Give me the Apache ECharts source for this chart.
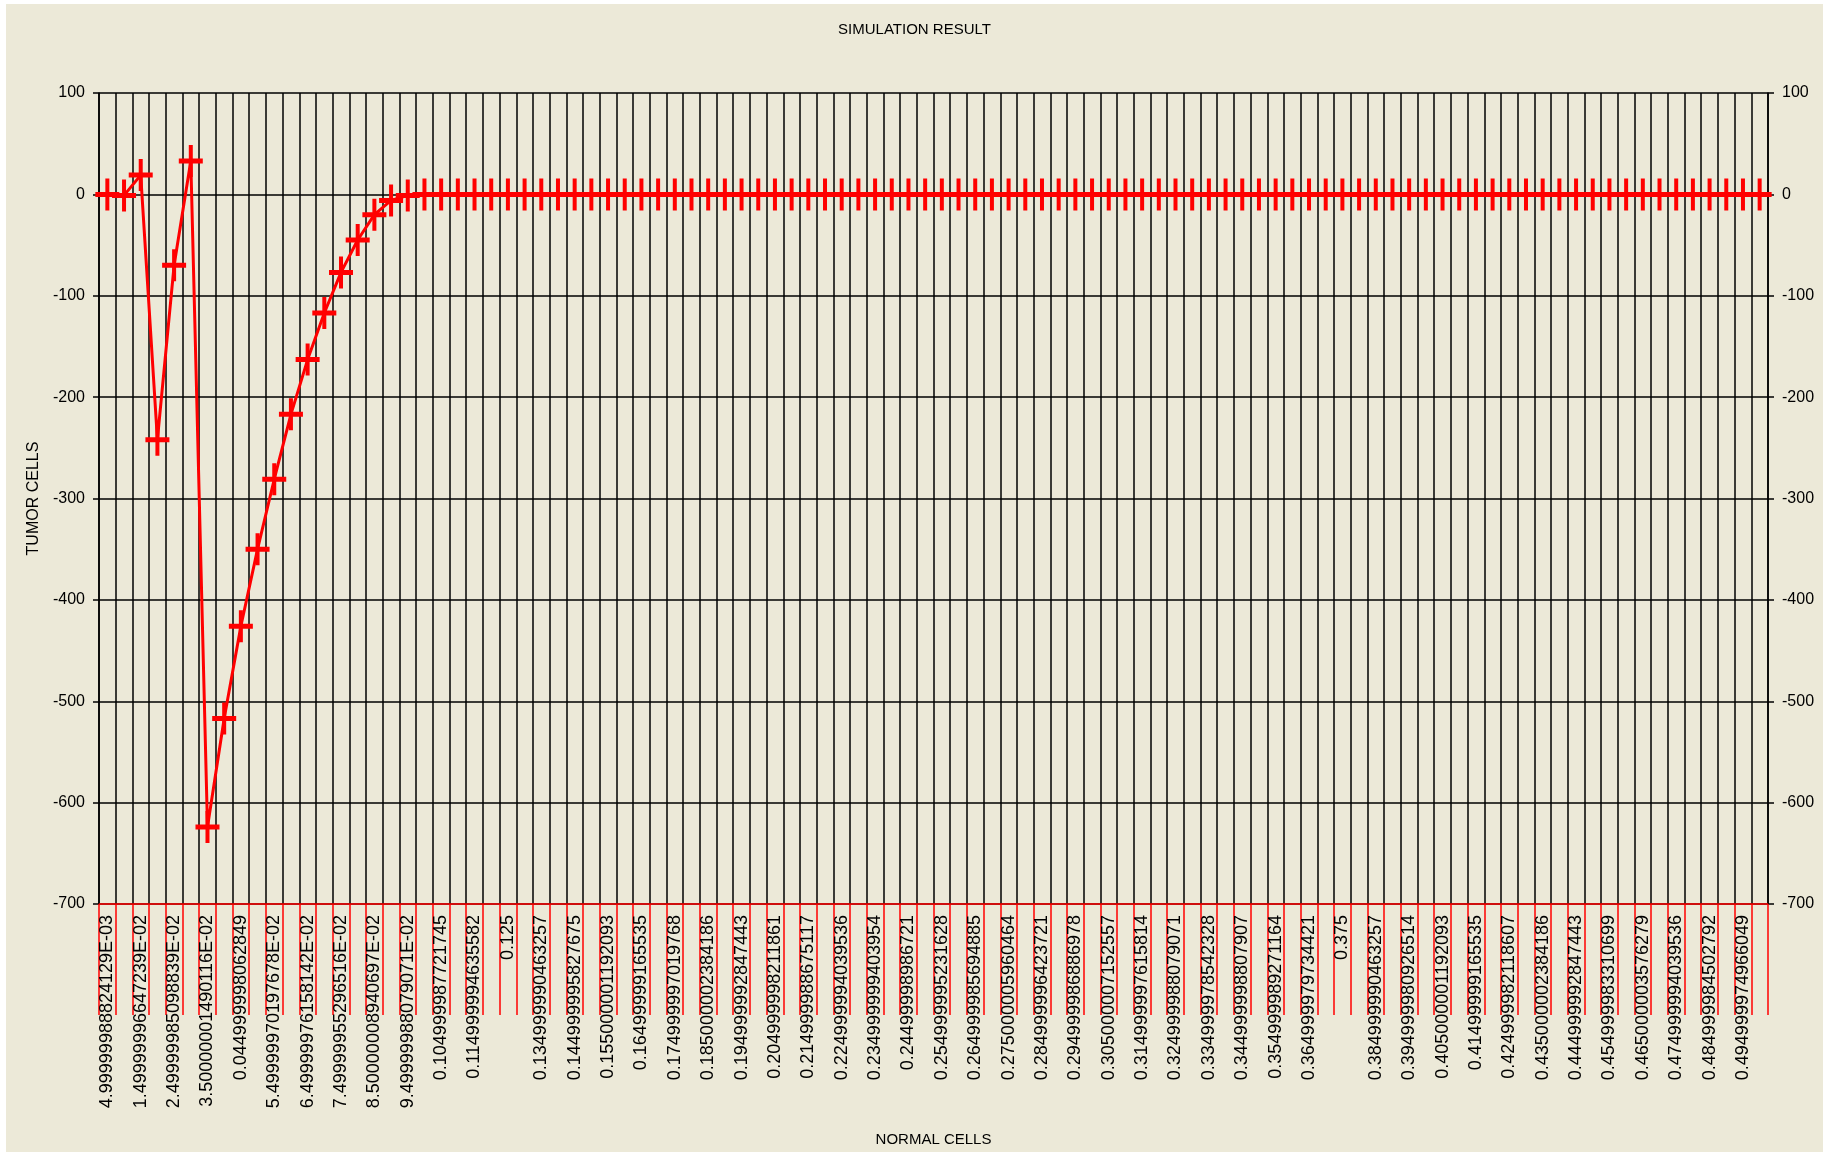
<!DOCTYPE html>
<html>
<head>
<meta charset="utf-8">
<script src="https://cdn.jsdelivr.net/npm/echarts@6/dist/echarts.min.js"></script>
<style>
  html, body { margin: 0; padding: 0; background: #ffffff; width: 1830px; height: 1155px; overflow: hidden; }
  #chart { position: absolute; left: 6px; top: 4px; width: 1817px; height: 1148px; }
</style>
</head>
<body>
<div id="chart"></div>
<script>
// Category labels (NORMAL CELLS); every other label is shown, as in the reference
const categories = [
  "4.99999988824129E-03", "9.99999977648258E-03", "1.49999996647239E-02", "1.99999995529652E-02",
  "2.49999985098839E-02", "0.03", "3.50000001490116E-02", "0.04",
  "0.044999998062849", "0.05", "5.49999970197678E-02", "0.06",
  "6.49999976158142E-02", "0.07", "7.49999955296516E-02", "0.08",
  "8.50000008940697E-02", "0.09", "9.49999988079071E-02", "0.1",
  "0.104999987721745", "0.11", "0.114999994635582", "0.12",
  "0.125", "0.13", "0.134999990463257", "0.14",
  "0.144999995827675", "0.15", "0.155000001192093", "0.16",
  "0.16499999165535", "0.17", "0.174999997019768", "0.18",
  "0.185000002384186", "0.19", "0.194999992847443", "0.2",
  "0.204999998211861", "0.21", "0.214999988675117", "0.22",
  "0.224999994039536", "0.23", "0.234999999403954", "0.24",
  "0.24499998986721", "0.25", "0.254999995231628", "0.26",
  "0.264999985694885", "0.27", "0.275000005960464", "0.28",
  "0.284999996423721", "0.29", "0.294999986886978", "0.3",
  "0.305000007152557", "0.31", "0.314999997615814", "0.32",
  "0.324999988079071", "0.33", "0.334999978542328", "0.34",
  "0.344999998807907", "0.35", "0.354999989271164", "0.36",
  "0.364999979734421", "0.37", "0.375", "0.38",
  "0.384999990463257", "0.39", "0.394999980926514", "0.4",
  "0.405000001192093", "0.41", "0.41499999165535", "0.42",
  "0.424999982118607", "0.43", "0.435000002384186", "0.44",
  "0.444999992847443", "0.45", "0.454999983310699", "0.46",
  "0.465000003576279", "0.47", "0.474999994039536", "0.48",
  "0.484999984502792", "0.49", "0.494999974966049", "0.5"
];

// TUMOR CELLS values
const tumorCells = [
  0, -1, 19, -242, -70, 33, -624, -517, -426, -350,
  -281, -217, -163, -117, -77, -45, -20, -6, -1, 0,
  0, 0, 0, 0, 0, 0, 0, 0, 0, 0,
  0, 0, 0, 0, 0, 0, 0, 0, 0, 0,
  0, 0, 0, 0, 0, 0, 0, 0, 0, 0,
  0, 0, 0, 0, 0, 0, 0, 0, 0, 0,
  0, 0, 0, 0, 0, 0, 0, 0, 0, 0,
  0, 0, 0, 0, 0, 0, 0, 0, 0, 0,
  0, 0, 0, 0, 0, 0, 0, 0, 0, 0,
  0, 0, 0, 0, 0, 0, 0, 0, 0, 0
];

const yMin = -700, yMax = 100, yStep = 100;
const titleText = "SIMULATION RESULT";
const xName = "NORMAL CELLS";
const yName = "TUMOR CELLS";

const FONT = "'Liberation Sans', Arial, sans-serif";
const chart = echarts.init(document.getElementById('chart'), null, { renderer: 'canvas' });

const yAxisBase = {
  type: 'value',
  min: yMin, max: yMax, interval: yStep,
  axisLine: { show: true, lineStyle: { color: '#000', width: 1.5 } },
  axisTick: { show: true, length: 6, lineStyle: { color: '#000', width: 1.5 } },
  axisLabel: { color: '#000', fontSize: 16, fontFamily: FONT, margin: 14 }
};

chart.setOption({
  animation: false,
  backgroundColor: '#ECE9D8',
  title: {
    text: titleText, left: 'center', top: 13,
    textStyle: { color: '#000', fontSize: 15, fontWeight: 'normal', fontFamily: FONT }
  },
  grid: { left: 93, top: 89, right: 55, bottom: 248, containLabel: false },
  xAxis: {
    type: 'category',
    data: categories,
    boundaryGap: true,
    name: xName,
    nameLocation: 'middle',
    nameGap: 228,
    nameTextStyle: { color: '#000', fontSize: 15, fontFamily: FONT },
    axisLine: { show: true, onZero: false, lineStyle: { color: '#ff0000', width: 1.5 } },
    axisTick: { show: true, interval: 0, length: 111, alignWithLabel: false, lineStyle: { color: '#ff0000', width: 1.5 } },
    axisLabel: { interval: 1, rotate: 90, margin: 11, color: '#000', fontSize: 18, fontFamily: FONT },
    splitLine: { show: true, interval: 0, lineStyle: { color: '#000', width: 1.5 } }
  },
  yAxis: [
    Object.assign({}, yAxisBase, {
      position: 'left',
      name: yName,
      nameLocation: 'middle',
      nameRotate: 90,
      nameGap: 56,
      nameTextStyle: { color: '#000', fontSize: 16, fontFamily: FONT },
      splitLine: { show: true, lineStyle: { color: '#000', width: 1.5 } }
    }),
    Object.assign({}, yAxisBase, {
      position: 'right',
      splitLine: { show: false }
    })
  ],
  series: [{
    type: 'line',
    data: tumorCells,
    yAxisIndex: 0,
    showAllSymbol: true,
    symbol: 'path://M0,13.5L24,13.5L24,18.5L0,18.5Z M10,0L14,0L14,32L10,32Z',
    symbolSize: [24, 32],
    itemStyle: { color: '#ff0000', borderWidth: 0 },
    lineStyle: { color: '#ff0000', width: 3 },
    z: 5
  }]
});
</script>
</body>
</html>
